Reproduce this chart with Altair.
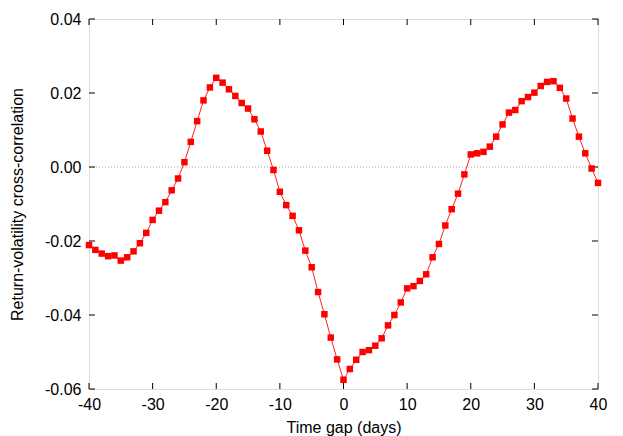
import altair as alt
import pandas as pd

days = list(range(-40, 41))
corr = [
    -0.0211, -0.0224, -0.0234, -0.0241, -0.0239, -0.0253, -0.0244, -0.0228, -0.0206, -0.0178,
    -0.0143, -0.0118, -0.0095, -0.0063, -0.0031, 0.0013, 0.0068, 0.0124, 0.0180, 0.0215,
    0.0241, 0.0228, 0.0210, 0.0192, 0.0173, 0.0158, 0.0129, 0.0096, 0.0044, -0.0008,
    -0.0067, -0.0103, -0.0132, -0.0171, -0.0226, -0.0271, -0.0338, -0.0398, -0.0461, -0.0520,
    -0.0575, -0.0546, -0.0521, -0.0500, -0.0495, -0.0483, -0.0463, -0.0428, -0.0400, -0.0366,
    -0.0328, -0.0322, -0.0308, -0.0290, -0.0244, -0.0208, -0.0158, -0.0114, -0.0072, -0.0020,
    0.0034, 0.0037, 0.0041, 0.0055, 0.0082, 0.0115, 0.0147, 0.0154, 0.0178, 0.0189,
    0.0201, 0.0219, 0.0230, 0.0232, 0.0214, 0.0185, 0.0131, 0.0082, 0.0037, -0.0004,
    -0.0043,
]
x_ticks = [-40, -30, -20, -10, 0, 10, 20, 30, 40]
y_ticks = [-0.06, -0.04, -0.02, 0.00, 0.02, 0.04]

W, H = 509, 370
FONT = "Liberation Sans"
FS = 16

df = pd.DataFrame({"day": days, "corr": corr})
xt = pd.DataFrame({"t": x_ticks})
yt = pd.DataFrame({"t": y_ticks})

xscale = alt.Scale(domain=[-40, 40], nice=False, zero=False)
yscale = alt.Scale(domain=[-0.06, 0.04], nice=False, zero=False)

x_axis = alt.Axis(values=x_ticks, ticks=False, grid=False, domain=False, labelFlush=False,
                  labelExpr="datum.value < 0 ? '-' + format(abs(datum.value), 'd') : format(datum.value, 'd')",
                  labelFont=FONT, labelFontSize=FS, labelColor="black", labelPadding=7,
                  title="Time gap (days)", titleFont=FONT, titleFontSize=FS,
                  titleFontWeight="normal", titleColor="black", titlePadding=7)
y_axis = alt.Axis(values=y_ticks, ticks=False, grid=False, domain=False, labelFlush=False,
                  labelFont=FONT, labelFontSize=FS, labelColor="black", labelPadding=8,
                  labelExpr="datum.value < 0 ? '-' + format(abs(datum.value), '.2f') : format(datum.value, '.2f')",
                  title="Return-volatility cross-correlation", titleFont=FONT, titleFontSize=FS,
                  titleFontWeight="normal", titleColor="black", titlePadding=19)

zero = alt.Chart(pd.DataFrame({"z": [0.0]})).mark_rule(
    color="#a8a8a8", strokeWidth=1, strokeDash=[1, 2]
).encode(y=alt.Y("z:Q", scale=yscale, axis=y_axis))

line = alt.Chart(df).mark_line(color="#ff2020", strokeWidth=1).encode(
    x=alt.X("day:Q", scale=xscale, axis=x_axis),
    y=alt.Y("corr:Q", scale=yscale),
)
pts = alt.Chart(df).mark_square(color="#ff0000", opacity=1, size=42).encode(
    x=alt.X("day:Q", scale=xscale),
    y=alt.Y("corr:Q", scale=yscale),
)

tick_len = 6
xb = alt.Chart(xt).mark_rule(color="black", strokeWidth=1).encode(
    x=alt.X("t:Q", scale=xscale), y=alt.value(H), y2=alt.value(H - tick_len))
xtop = alt.Chart(xt).mark_rule(color="black", strokeWidth=1).encode(
    x=alt.X("t:Q", scale=xscale), y=alt.value(0), y2=alt.value(tick_len))
yl = alt.Chart(yt).mark_rule(color="black", strokeWidth=1).encode(
    y=alt.Y("t:Q", scale=yscale), x=alt.value(0), x2=alt.value(tick_len))
yr = alt.Chart(yt).mark_rule(color="black", strokeWidth=1).encode(
    y=alt.Y("t:Q", scale=yscale), x=alt.value(W), x2=alt.value(W - tick_len))

chart = alt.layer(zero, xb, xtop, yl, yr, line, pts).properties(
    width=W, height=H,
    autosize=alt.AutoSizeParams(type="none"),
    padding={"left": 81, "top": 11, "right": 17, "bottom": 47},
).configure_view(stroke="black", strokeWidth=1).configure(background="white")

chart.save("out.html", embed_options={"renderer": "svg", "actions": False})
